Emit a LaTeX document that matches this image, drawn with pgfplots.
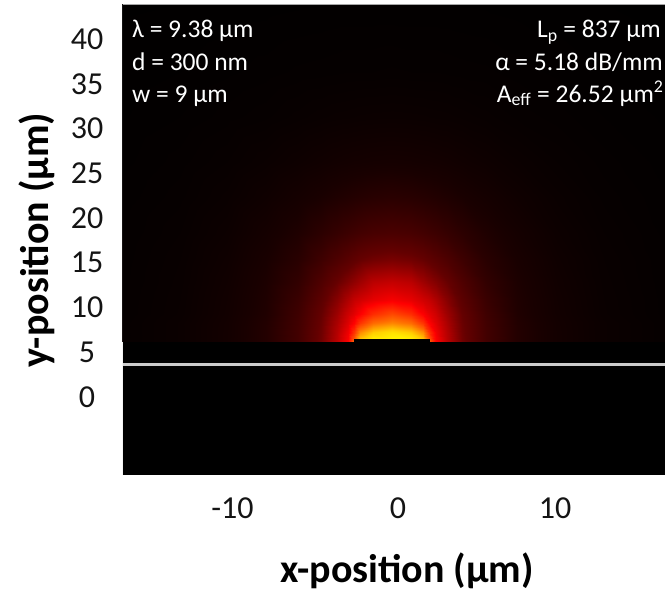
\documentclass[border=0pt]{standalone}
\usepackage{pgfplots}
\pgfplotsset{compat=1.18}
\usepackage{fontspec}
\setmainfont{Carlito}
\begin{document}
\begin{tikzpicture}
\path[use as bounding box] (-123pt,-117pt) rectangle (542pt,475pt);
\begin{axis}[
  at={(0pt,0pt)}, anchor=south west,
  scale only axis, width=542pt, height=470pt,
  xmin=-17.52, xmax=17.0, ymin=-8.72, ymax=43.8,
  axis background/.style={fill=black},
  axis line style={draw=none},
  major tick length=0pt,
  xtick={-10.55,0,10}, xticklabels={-10,0,10},
  ytick={0,5,10,15,20,25,30,35,40}, yticklabels={0,5,10,15,20,25,30,35,40},
  xticklabel style={anchor=center, yshift=-33pt, font=\fontsize{32}{38}\selectfont, text=black!92},
  yticklabel style={anchor=center, xshift=-36pt, font=\fontsize{32}{38}\selectfont, text=black!92},
  xlabel={x-position (µm)},
  xlabel style={at={(axis description cs:0.524,-0.2277)}, anchor=base, font=\fontsize{40}{48}\selectfont\bfseries, text=black},
  ylabel={y-position (µm)},
  ylabel style={at={(axis description cs:-0.1596,0.5)}, anchor=center, font=\fontsize{40}{48}\selectfont\bfseries, text=black},
  colormap={fire}{rgb255(0pt)=(0,0,0); rgb255(10pt)=(25,0,0); rgb255(30pt)=(100,0,0); rgb255(55pt)=(255,0,0); rgb255(75pt)=(255,110,0); rgb255(90pt)=(255,210,0); rgb255(100pt)=(255,255,0)},
  point meta min=0, point meta max=1,
]
\addplot[surf, shader=interp, mesh/cols=23, point meta=explicit] coordinates {
(-18.0,6.15)[0.021] (-13.9,6.15)[0.043] (-10.9,6.15)[0.077] (-8.4,6.15)[0.127] (-6.4,6.15)[0.21] (-4.9,6.15)[0.32] (-3.9,6.15)[0.44] (-3.2,6.15)[0.55] (-2.8,6.15)[0.74] (-2.4,6.15)[0.92] (-1.6,6.15)[1.0] (-0.4,6.15)[1.0] (0.8,6.15)[1.0] (1.6,6.15)[0.92] (2.0,6.15)[0.74] (2.4,6.15)[0.55] (3.1,6.15)[0.44] (4.1,6.15)[0.32] (5.6,6.15)[0.21] (7.6,6.15)[0.127] (10.1,6.15)[0.077] (13.1,6.15)[0.043] (17.2,6.15)[0.021]
(-18.0,7.3)[0.021] (-13.9,7.3)[0.043] (-10.9,7.3)[0.077] (-8.4,7.3)[0.127] (-6.4,7.3)[0.21] (-4.9,7.3)[0.315] (-3.9,7.3)[0.43] (-3.2,7.3)[0.525] (-2.8,7.3)[0.64] (-2.4,7.3)[0.79] (-1.6,7.3)[0.887] (-0.4,7.3)[0.93] (0.8,7.3)[0.887] (1.6,7.3)[0.79] (2.0,7.3)[0.64] (2.4,7.3)[0.525] (3.1,7.3)[0.43] (4.1,7.3)[0.315] (5.6,7.3)[0.21] (7.6,7.3)[0.127] (10.1,7.3)[0.077] (13.1,7.3)[0.043] (17.2,7.3)[0.021]
(-18.0,8.3)[0.021] (-13.9,8.3)[0.043] (-10.9,8.3)[0.076] (-8.4,8.3)[0.125] (-6.4,8.3)[0.207] (-4.9,8.3)[0.309] (-3.9,8.3)[0.413] (-3.2,8.3)[0.497] (-2.8,8.3)[0.554] (-2.4,8.3)[0.643] (-1.6,8.3)[0.745] (-0.4,8.3)[0.787] (0.8,8.3)[0.745] (1.6,8.3)[0.643] (2.0,8.3)[0.554] (2.4,8.3)[0.497] (3.1,8.3)[0.413] (4.1,8.3)[0.309] (5.6,8.3)[0.207] (7.6,8.3)[0.125] (10.1,8.3)[0.076] (13.1,8.3)[0.043] (17.2,8.3)[0.021]
(-18.0,9.3)[0.019] (-13.9,9.3)[0.039] (-10.9,9.3)[0.072] (-8.4,9.3)[0.118] (-6.4,9.3)[0.20] (-4.9,9.3)[0.30] (-3.9,9.3)[0.392] (-3.2,9.3)[0.47] (-2.8,9.3)[0.506] (-2.4,9.3)[0.547] (-1.6,9.3)[0.63] (-0.4,9.3)[0.683] (0.8,9.3)[0.63] (1.6,9.3)[0.547] (2.0,9.3)[0.506] (2.4,9.3)[0.47] (3.1,9.3)[0.392] (4.1,9.3)[0.30] (5.6,9.3)[0.20] (7.6,9.3)[0.118] (10.1,9.3)[0.072] (13.1,9.3)[0.039] (17.2,9.3)[0.019]
(-18.0,10.8)[0.019] (-13.9,10.8)[0.038] (-10.9,10.8)[0.07] (-8.4,10.8)[0.115] (-6.4,10.8)[0.187] (-4.9,10.8)[0.277] (-3.9,10.8)[0.356] (-3.2,10.8)[0.421] (-2.8,10.8)[0.457] (-2.4,10.8)[0.476] (-1.6,10.8)[0.512] (-0.4,10.8)[0.538] (0.8,10.8)[0.512] (1.6,10.8)[0.476] (2.0,10.8)[0.457] (2.4,10.8)[0.421] (3.1,10.8)[0.356] (4.1,10.8)[0.277] (5.6,10.8)[0.187] (7.6,10.8)[0.115] (10.1,10.8)[0.07] (13.1,10.8)[0.038] (17.2,10.8)[0.019]
(-18.0,12.8)[0.018] (-13.9,12.8)[0.036] (-10.9,12.8)[0.066] (-8.4,12.8)[0.109] (-6.4,12.8)[0.166] (-4.9,12.8)[0.244] (-3.9,12.8)[0.305] (-3.2,12.8)[0.347] (-2.8,12.8)[0.371] (-2.4,12.8)[0.395] (-1.6,12.8)[0.44] (-0.4,12.8)[0.456] (0.8,12.8)[0.44] (1.6,12.8)[0.395] (2.0,12.8)[0.371] (2.4,12.8)[0.347] (3.1,12.8)[0.305] (4.1,12.8)[0.244] (5.6,12.8)[0.166] (7.6,12.8)[0.109] (10.1,12.8)[0.066] (13.1,12.8)[0.036] (17.2,12.8)[0.018]
(-18.0,15.3)[0.0175] (-13.9,15.3)[0.034] (-10.9,15.3)[0.06] (-8.4,15.3)[0.099] (-6.4,15.3)[0.142] (-4.9,15.3)[0.199] (-3.9,15.3)[0.241] (-3.2,15.3)[0.27] (-2.8,15.3)[0.288] (-2.4,15.3)[0.304] (-1.6,15.3)[0.323] (-0.4,15.3)[0.335] (0.8,15.3)[0.323] (1.6,15.3)[0.304] (2.0,15.3)[0.288] (2.4,15.3)[0.27] (3.1,15.3)[0.241] (4.1,15.3)[0.199] (5.6,15.3)[0.142] (7.6,15.3)[0.099] (10.1,15.3)[0.06] (13.1,15.3)[0.034] (17.2,15.3)[0.0175]
(-18.0,18.3)[0.016] (-13.9,18.3)[0.03] (-10.9,18.3)[0.051] (-8.4,18.3)[0.083] (-6.4,18.3)[0.116] (-4.9,18.3)[0.15] (-3.9,18.3)[0.175] (-3.2,18.3)[0.193] (-2.8,18.3)[0.202] (-2.4,18.3)[0.211] (-1.6,18.3)[0.224] (-0.4,18.3)[0.231] (0.8,18.3)[0.224] (1.6,18.3)[0.211] (2.0,18.3)[0.202] (2.4,18.3)[0.193] (3.1,18.3)[0.175] (4.1,18.3)[0.15] (5.6,18.3)[0.116] (7.6,18.3)[0.083] (10.1,18.3)[0.051] (13.1,18.3)[0.03] (17.2,18.3)[0.016]
(-18.0,22.3)[0.014] (-13.9,22.3)[0.0245] (-10.9,22.3)[0.04] (-8.4,22.3)[0.061] (-6.4,22.3)[0.084] (-4.9,22.3)[0.102] (-3.9,22.3)[0.115] (-3.2,22.3)[0.123] (-2.8,22.3)[0.128] (-2.4,22.3)[0.132] (-1.6,22.3)[0.139] (-0.4,22.3)[0.144] (0.8,22.3)[0.139] (1.6,22.3)[0.132] (2.0,22.3)[0.128] (2.4,22.3)[0.123] (3.1,22.3)[0.115] (4.1,22.3)[0.102] (5.6,22.3)[0.084] (7.6,22.3)[0.061] (10.1,22.3)[0.04] (13.1,22.3)[0.0245] (17.2,22.3)[0.014]
(-18.0,26.3)[0.0115] (-13.9,26.3)[0.020] (-10.9,26.3)[0.030] (-8.4,26.3)[0.043] (-6.4,26.3)[0.056] (-4.9,26.3)[0.066] (-3.9,26.3)[0.073] (-3.2,26.3)[0.077] (-2.8,26.3)[0.079] (-2.4,26.3)[0.080] (-1.6,26.3)[0.083] (-0.4,26.3)[0.085] (0.8,26.3)[0.083] (1.6,26.3)[0.080] (2.0,26.3)[0.079] (2.4,26.3)[0.077] (3.1,26.3)[0.073] (4.1,26.3)[0.066] (5.6,26.3)[0.056] (7.6,26.3)[0.043] (10.1,26.3)[0.030] (13.1,26.3)[0.020] (17.2,26.3)[0.0115]
(-18.0,31.3)[0.009] (-13.9,31.3)[0.014] (-10.9,31.3)[0.020] (-8.4,31.3)[0.025] (-6.4,31.3)[0.032] (-4.9,31.3)[0.037] (-3.9,31.3)[0.040] (-3.2,31.3)[0.041] (-2.8,31.3)[0.042] (-2.4,31.3)[0.043] (-1.6,31.3)[0.044] (-0.4,31.3)[0.045] (0.8,31.3)[0.044] (1.6,31.3)[0.043] (2.0,31.3)[0.042] (2.4,31.3)[0.041] (3.1,31.3)[0.040] (4.1,31.3)[0.037] (5.6,31.3)[0.032] (7.6,31.3)[0.025] (10.1,31.3)[0.020] (13.1,31.3)[0.014] (17.2,31.3)[0.009]
(-18.0,36.3)[0.007] (-13.9,36.3)[0.010] (-10.9,36.3)[0.013] (-8.4,36.3)[0.016] (-6.4,36.3)[0.019] (-4.9,36.3)[0.020] (-3.9,36.3)[0.021] (-3.2,36.3)[0.022] (-2.8,36.3)[0.022] (-2.4,36.3)[0.022] (-1.6,36.3)[0.022] (-0.4,36.3)[0.023] (0.8,36.3)[0.022] (1.6,36.3)[0.022] (2.0,36.3)[0.022] (2.4,36.3)[0.022] (3.1,36.3)[0.021] (4.1,36.3)[0.020] (5.6,36.3)[0.019] (7.6,36.3)[0.016] (10.1,36.3)[0.013] (13.1,36.3)[0.010] (17.2,36.3)[0.007]
(-18.0,44)[0.005] (-13.9,44)[0.006] (-10.9,44)[0.0075] (-8.4,44)[0.008] (-6.4,44)[0.009] (-4.9,44)[0.0095] (-3.9,44)[0.010] (-3.2,44)[0.010] (-2.8,44)[0.010] (-2.4,44)[0.010] (-1.6,44)[0.010] (-0.4,44)[0.010] (0.8,44)[0.010] (1.6,44)[0.010] (2.0,44)[0.010] (2.4,44)[0.010] (3.1,44)[0.010] (4.1,44)[0.0095] (5.6,44)[0.009] (7.6,44)[0.008] (10.1,44)[0.0075] (13.1,44)[0.006] (17.2,44)[0.005]
};
% waveguide
\addplot[fill=black, draw=none] coordinates {(-2.8,6.0) (-2.8,6.5) (2.05,6.5) (2.05,6.0)} --cycle;
% interface line
\addplot[black!20, line width=3pt] coordinates {(-17.52,3.65) (17.0,3.65)};
\draw[black!35, line width=1pt] (rel axis cs:0,0) -- (rel axis cs:0,1) -- (rel axis cs:1,1);
\node[anchor=base west, text=white, font=\fontsize{25.5}{30}\selectfont, inner sep=0pt] at (axis description cs:0.0166,0.9298) {λ = 9.38 µm};
\node[anchor=base west, text=white, font=\fontsize{25.5}{30}\selectfont, inner sep=0pt] at (axis description cs:0.0166,0.8617) {d = 300 nm};
\node[anchor=base west, text=white, font=\fontsize{25.5}{30}\selectfont, inner sep=0pt] at (axis description cs:0.0166,0.7936) {w = 9 µm};
\node[anchor=base east, text=white, font=\fontsize{25.5}{30}\selectfont, inner sep=0pt] at (axis description cs:0.9926,0.9298) {L\textsubscript{p} = 837 µm};
\node[anchor=base east, text=white, font=\fontsize{25.5}{30}\selectfont, inner sep=0pt] at (axis description cs:0.9963,0.8617) {α = 5.18 dB/mm};
\node[anchor=base east, text=white, font=\fontsize{25.5}{30}\selectfont, inner sep=0pt] at (axis description cs:0.9975,0.7936) {A\textsubscript{eff} = 26.52 µm\textsuperscript{2}};
\end{axis}
\end{tikzpicture}
\end{document}
